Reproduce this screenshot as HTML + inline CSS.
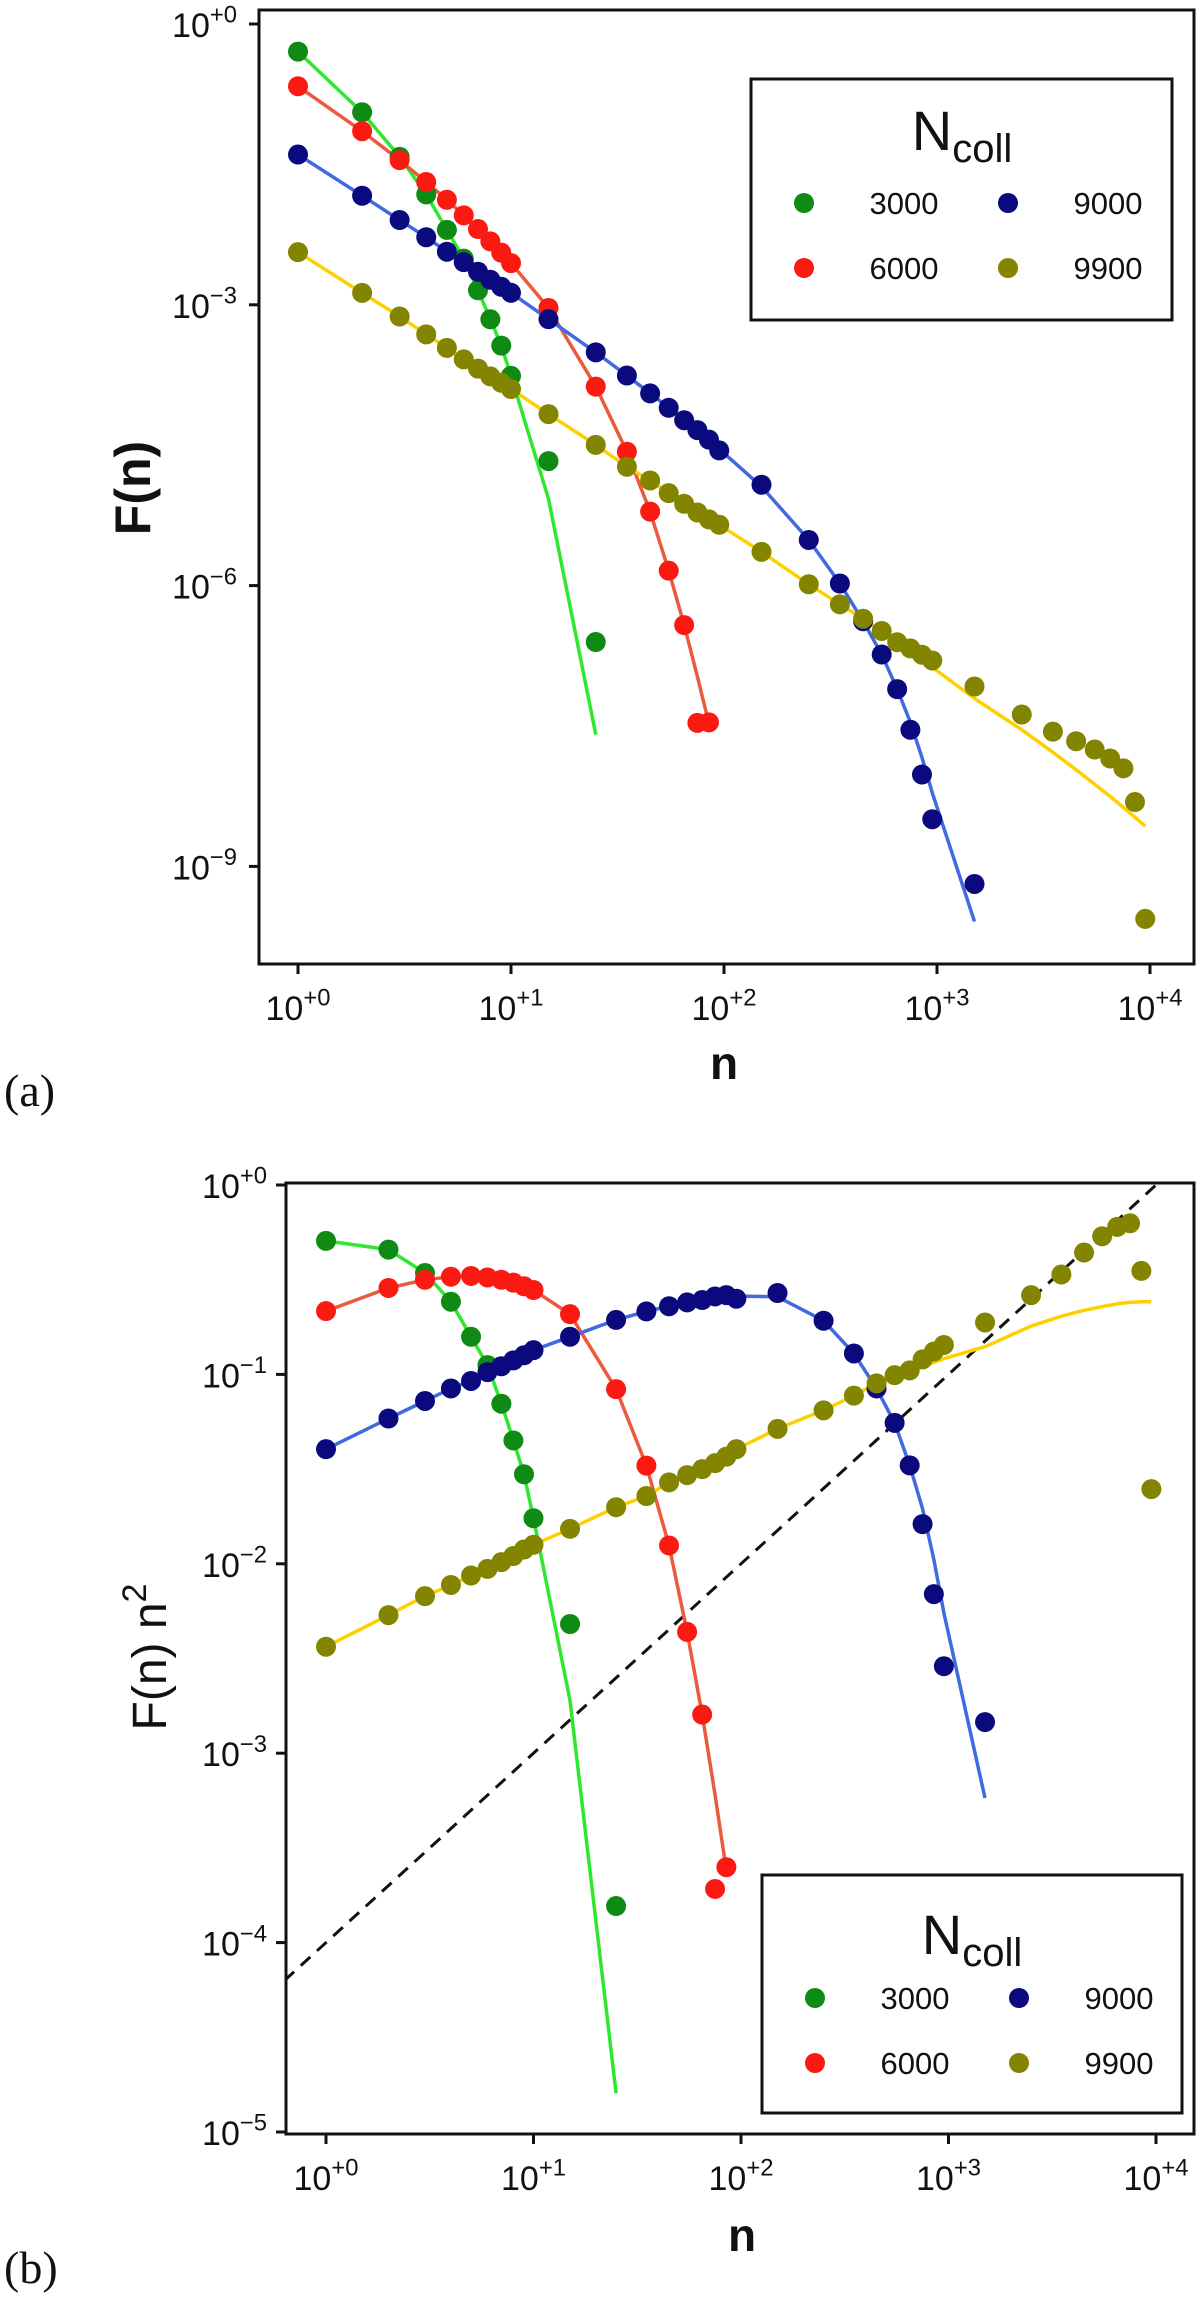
<!DOCTYPE html>
<html><head><meta charset="utf-8"><style>
html,body{margin:0;padding:0;background:#fff;}
svg{display:block;font-family:"Liberation Sans",sans-serif;}
</style></head><body>
<svg id="fig" width="1200" height="2301" viewBox="0 0 1200 2301" xmlns="http://www.w3.org/2000/svg">
<defs>
<clipPath id="clipA"><rect x="259" y="10" width="935" height="954"/></clipPath>
<clipPath id="clipB"><rect x="286" y="1183" width="908" height="951"/></clipPath>
</defs>
<g id="panelA"></g>
<g id="panelB"></g>
</svg>
<script>
// ---- data (values are F(n)*n^2) ----
const nGreen = [1,2,3,4,5,6,7,8,9,10,15,25];
const vGreen = [0.507,0.456,0.343,0.242,0.158,0.112,0.070,0.0448,0.0297,0.0174,0.00481,0.000156];
const fitNGreen = [1,2,3,4,5,6,7,8,9,10,15,25];
const fitVGreen = [0.507,0.456,0.343,0.242,0.158,0.112,0.070,0.0448,0.0297,0.0174,0.0019,1.6e-5];

const nRed = [1,2,3,4,5,6,7,8,9,10,15,25,35,45,55,65,75,85];
const vRed = [0.216,0.286,0.316,0.328,0.331,0.325,0.316,0.305,0.292,0.279,0.208,0.0836,0.033,0.0125,0.00437,0.0016,1.92e-4,2.5e-4];
const fitNRed = [1,2,3,4,5,6,7,8,9,10,15,25,35,45,55,65,75,85];
const fitVRed = [0.216,0.286,0.316,0.328,0.331,0.325,0.316,0.305,0.292,0.279,0.208,0.0836,0.033,0.0125,0.00437,0.0016,6e-4,2.4e-4];

const nBlue = [1,2,3,4,5,6,7,8,9,10,15,25,35,45,55,65,75,85,95,150,250,350,450,550,650,750,850,950,1500];
const vBlue = [0.0403,0.0585,0.0724,0.0843,0.0923,0.1028,0.1104,0.1186,0.1262,0.1343,0.158,0.194,0.215,0.229,0.240,0.247,0.258,0.262,0.251,0.269,0.192,0.129,0.0843,0.0555,0.0331,0.0162,0.00692,0.00288,0.00146];
const fitNBlue = [1,2,3,4,5,6,7,8,9,10,15,25,35,45,55,65,75,85,95,150,250,350,450,550,650,750,850,950,1500];
const fitVBlue = [0.0403,0.0585,0.0724,0.0843,0.0923,0.1028,0.1104,0.1186,0.1262,0.1343,0.158,0.194,0.215,0.229,0.240,0.247,0.254,0.257,0.259,0.257,0.192,0.129,0.0843,0.0555,0.0331,0.0195,0.0105,0.0055,5.8e-4];

const nOlive = [1,2,3,4,5,6,7,8,9,10,15,25,35,45,55,65,75,85,95,150,250,350,450,550,650,750,850,950,1500,2500,3500,4500,5500,6500,7500,8500,9500];
const vOlive = [0.00365,0.00536,0.00675,0.00773,0.00867,0.0094,0.0102,0.0110,0.0119,0.0126,0.0153,0.0199,0.0228,0.0269,0.0294,0.0316,0.0340,0.0368,0.0403,0.0516,0.0646,0.0773,0.0897,0.0991,0.105,0.120,0.132,0.143,0.188,0.262,0.337,0.440,0.536,0.601,0.628,0.352,0.0248];
const fitNOlive = [1,2,3,4,5,6,7,8,9,10,15,25,35,45,55,65,75,85,95,150,250,350,450,550,650,750,850,950,1500,2500,3500,4500,5500,6500,7500,8500,9500];
const fitVOlive = [0.00365,0.00536,0.00675,0.00773,0.00867,0.0094,0.0102,0.0110,0.0119,0.0126,0.0153,0.0199,0.0228,0.0269,0.0294,0.0316,0.0340,0.0368,0.0403,0.0516,0.0646,0.0773,0.0897,0.097,0.103,0.110,0.116,0.121,0.14,0.18,0.203,0.218,0.228,0.236,0.240,0.242,0.242];

const seriesLabels = ["3000","6000","9000","9900"];
const xTickExps = [0,1,2,3,4];
const yTickExpsA = [0,-3,-6,-9];
const yTickExpsB = [0,-1,-2,-3,-4,-5];
const refLineCoef = 1e-4; // dashed reference y = 1e-4 * n

// ---- styles ----
const SER = [
 {key:"3000", n:nGreen, v:vGreen, fn:fitNGreen, fv:fitVGreen, pt:"#0f8a14", ln:"#2ee82e"},
 {key:"6000", n:nRed, v:vRed, fn:fitNRed, fv:fitVRed, pt:"#fa1a12", ln:"#ec5a3c"},
 {key:"9000", n:nBlue, v:vBlue, fn:fitNBlue, fv:fitVBlue, pt:"#0a0a7e", ln:"#4169e0"},
 {key:"9900", n:nOlive, v:vOlive, fn:fitNOlive, fv:fitVOlive, pt:"#838400", ln:"#ffd000"}
];
const NS="http://www.w3.org/2000/svg";
function mk(tag,attrs,parent){const e=document.createElementNS(NS,tag);for(const k in attrs)e.setAttribute(k,attrs[k]);if(parent)parent.appendChild(e);return e;}
function supText(parent,x,y,base,sup,size,anchor){
  const t=mk("text",{x:x,y:y,"font-size":size,"text-anchor":anchor,fill:"#111"},parent);
  t.appendChild(document.createTextNode(base));
  const s=mk("tspan",{dy:-size*0.42,"font-size":size*0.7},t);
  s.textContent=sup;
  return t;
}
function expLabel(e){return e>0?"+"+e:(e===0?"+0":"\u2212"+(-e));}

function drawPanel(g,cfg){
  const lg=Math.log10;
  const X=n=>cfg.x0+cfg.dx*lg(n);
  const Y=v=>cfg.y0-cfg.dy*lg(v);
  const tr=cfg.tr;
  // box
  const box=mk("rect",{x:cfg.L,y:cfg.T,width:cfg.R-cfg.L,height:cfg.B-cfg.T,fill:"none",stroke:"#111","stroke-width":3},g);
  
  
  const plot=mk("g",{"clip-path":"url(#"+cfg.clip+")"},g);
  
  
  if(cfg.ref){
    const n1=Math.pow(10,-0.2), n2=Math.pow(10,4.2);
    const d=mk("line",{x1:X(n1),y1:Y(refLineCoef*n1),x2:X(n2),y2:Y(refLineCoef*n2),stroke:"#111","stroke-width":3,"stroke-dasharray":"13 9"},plot);
    
    
  }
  SER.forEach(s=>{
    const pts=s.fn.map((n,i)=>X(n).toFixed(1)+","+Y(tr(s.fv[i],n)).toFixed(1)).join(" ");
    const pl=mk("polyline",{points:pts,fill:"none",stroke:s.ln,"stroke-width":3.5,"stroke-linejoin":"round"},plot);
    
    
  });
  SER.forEach(s=>{
    const gg=mk("g",{},plot);
    
    
    s.n.forEach((n,i)=>{
      const c=mk("circle",{cx:X(n),cy:Y(tr(s.v[i],n)),r:10,fill:s.pt},gg);
      
      
    });
  });
  // x ticks
  xTickExps.forEach(e=>{
    const x=X(Math.pow(10,e));
    const tk=mk("line",{x1:x,y1:cfg.B,x2:x,y2:cfg.B+10,stroke:"#111","stroke-width":3},g);
    
    
    const t=supText(g,x,cfg.xLabY,"10",expLabel(e),34,"middle");
    
    
  });
  cfg.yTicks.forEach(e=>{
    const y=Y(Math.pow(10,e));
    const tk=mk("line",{x1:cfg.L-10,y1:y,x2:cfg.L,y2:y,stroke:"#111","stroke-width":3},g);
    
    
    const t=supText(g,cfg.yLabX,y+13,"10",expLabel(e),34,"end");
    
    
  });
  // legend
  const lgG=mk("g",{},g);
  
  
  const L=cfg.leg;
  mk("rect",{x:L.x,y:L.y,width:L.w,height:L.h,fill:"#fff",stroke:"#111","stroke-width":3},lgG);
  const tt=mk("text",{x:L.tx,y:L.ty,"font-size":56,"text-anchor":"middle",fill:"#111"},lgG);
  tt.appendChild(document.createTextNode("N"));
  const sb=mk("tspan",{dy:12,"font-size":40},tt); sb.textContent="coll";
  
  
  const pos=[[0,0],[0,1],[1,0],[1,1]];
  SER.forEach((s,i)=>{
    const [c,r]=pos[i];
    const eg=mk("g",{},lgG);
    
    
    mk("circle",{cx:L.dotX[c],cy:L.rowY[r],r:10,fill:s.pt},eg);
    const lt=mk("text",{x:L.labX[c],y:L.rowY[r]+11,"font-size":31,"text-anchor":"middle",fill:"#111"},eg);
    lt.textContent=seriesLabels[i];
  });
}

drawPanel(document.getElementById("panelA"),{
  L:259,R:1194,T:10,B:964,x0:298,dx:213,y0:24,dy:93.6,clip:"clipA",
  tr:(v,n)=>v/(n*n), ref:false, yTicks:yTickExpsA, xLabY:1020, yLabX:237,
  leg:{x:751,y:79,w:421,h:241,tx:962,ty:150,dotX:[804,1008],labX:[904,1108],rowY:[203,268]}
});
drawPanel(document.getElementById("panelB"),{
  L:286,R:1194,T:1183,B:2134,x0:326,dx:207.5,y0:1185,dy:189.4,clip:"clipB",
  tr:(v,n)=>v, ref:true, yTicks:yTickExpsB, xLabY:2190, yLabX:267,
  leg:{x:762,y:1875,w:420,h:238,tx:972,ty:1954,dotX:[815,1019],labX:[915,1119],rowY:[1998,2063]}
});

// axis titles & panel labels
const svg=document.getElementById("fig");
let t;
t=mk("text",{x:724,y:1079,"font-size":46,"font-weight":"bold","text-anchor":"middle",fill:"#111"},svg);
t.textContent="n";


t=mk("text",{x:0,y:0,"font-size":50,"font-weight":"bold","text-anchor":"middle",fill:"#111",transform:"translate(150,488) rotate(-90)"},svg);
t.textContent="F(n)";


t=mk("text",{x:742,y:2251,"font-size":46,"font-weight":"bold","text-anchor":"middle",fill:"#111"},svg);
t.textContent="n";


t=mk("text",{x:0,y:0,"font-size":48,"text-anchor":"middle",fill:"#111",transform:"translate(166,1657) rotate(-90)"},svg);
t.appendChild(document.createTextNode("F(n) n"));
const s2=mk("tspan",{dy:-20,"font-size":34},t); s2.textContent="2";


t=mk("text",{x:4,y:1106,"font-size":46,fill:"#111","font-family":"Liberation Serif, serif"},svg);
t.textContent="(a)";


t=mk("text",{x:4,y:2283,"font-size":46,fill:"#111","font-family":"Liberation Serif, serif"},svg);
t.textContent="(b)";


</script>
</body></html>
